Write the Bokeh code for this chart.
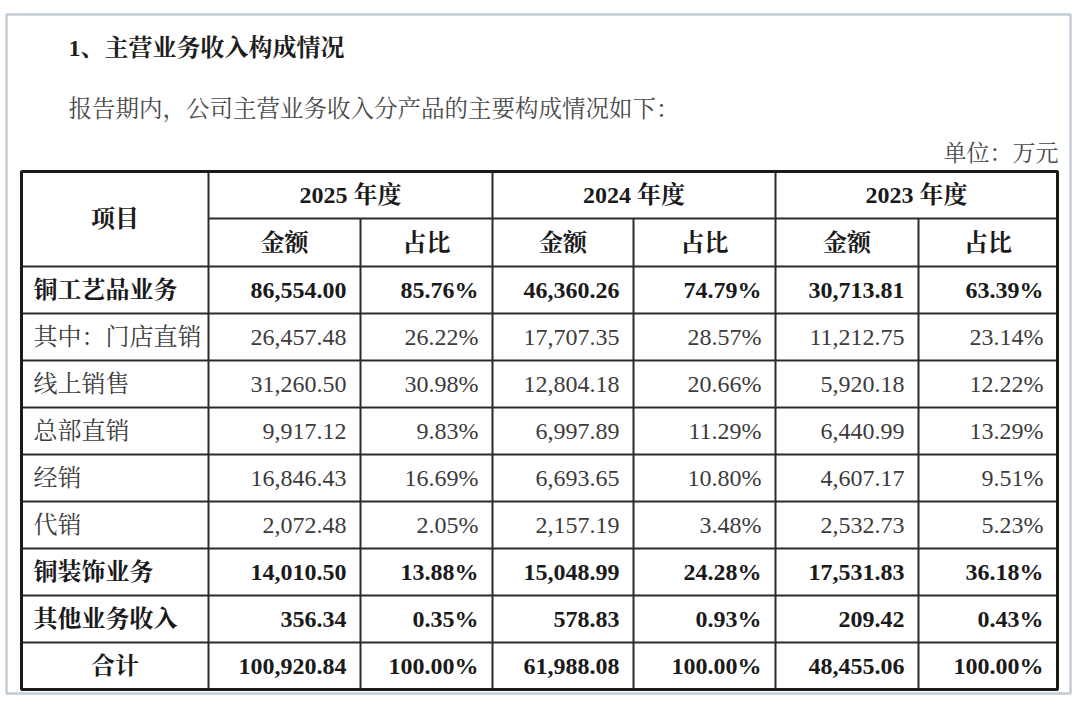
from bokeh.plotting import figure
from bokeh.models import Range1d
from bokeh.core.properties import value
from bokeh.embed import file_html
from bokeh.resources import INLINE

# ---------------- data ----------------
title_text = "1、主营业务收入构成情况"
intro_text = "报告期内，公司主营业务收入分产品的主要构成情况如下："
unit_text = "单位：万元"
header_item = "项目"
years = ["2025 年度", "2024 年度", "2023 年度"]
sub_headers = ["金额", "占比"]
categories = ["铜工艺品业务", "其中：门店直销", "线上销售", "总部直销", "经销", "代销",
              "铜装饰业务", "其他业务收入", "合计"]
bold_rows = [True, False, False, False, False, False, True, True, True]
amount_2025 = [86554.00, 26457.48, 31260.50, 9917.12, 16846.43, 2072.48, 14010.50, 356.34, 100920.84]
share_2025 = [85.76, 26.22, 30.98, 9.83, 16.69, 2.05, 13.88, 0.35, 100.00]
amount_2024 = [46360.26, 17707.35, 12804.18, 6997.89, 6693.65, 2157.19, 15048.99, 578.83, 61988.08]
share_2024 = [74.79, 28.57, 20.66, 11.29, 10.80, 3.48, 24.28, 0.93, 100.00]
amount_2023 = [30713.81, 11212.75, 5920.18, 6440.99, 4607.17, 2532.73, 17531.83, 209.42, 48455.06]
share_2023 = [63.39, 23.14, 12.22, 13.29, 9.51, 5.23, 36.18, 0.43, 100.00]

amounts = [amount_2025, amount_2024, amount_2023]
shares = [share_2025, share_2024, share_2023]

# ---------------- layout ----------------
FONT = value("'Liberation Serif', 'Noto Serif CJK SC', 'Noto Sans CJK SC', serif")
col_x = [21, 208, 360, 492, 633, 775, 918, 1057]
top_y = 171
head1_y = 218
head2_y = 266
row_h = 47
n_rows = len(categories)
row_y = [head2_y + i * row_h for i in range(n_rows + 1)]
bottom_y = row_y[-1]

W, H = 1072, 703
p = figure(width=W, height=H, x_range=Range1d(0, W), y_range=Range1d(H, 0),
           output_backend="svg", toolbar_location=None, min_border=0)
p.axis.visible = False
p.grid.visible = False
p.outline_line_color = None
p.background_fill_color = "white"
p.border_fill_color = "white"

# outer light frame
p.quad(left=[6], right=[1070], top=[14], bottom=[693], fill_color=None,
       line_color="#c3cbd5", line_width=2.5)

# texts above table
p.text(x=[68], y=[47], text=[title_text], text_font=FONT, text_font_size="24px",
       text_font_style="bold", text_color="#1e1e1e", text_baseline="middle", text_align="left")
p.text(x=[68], y=[108], text=[intro_text], text_font=FONT, text_font_size="23.5px",
       text_color="#4a4a4a", text_baseline="middle", text_align="left")
p.text(x=[1058], y=[153], text=[unit_text], text_font=FONT, text_font_size="23px",
       text_color="#4a4a4a", text_baseline="middle", text_align="right")

# table lines
hx0, hx1, hy0, hy1 = [], [], [], []
hx0.append(col_x[1]); hx1.append(col_x[-1]); hy0.append(head1_y); hy1.append(head1_y)
for yy in row_y[:-1]:
    hx0.append(col_x[0]); hx1.append(col_x[-1]); hy0.append(yy); hy1.append(yy)
p.segment(x0=hx0, y0=hy0, x1=hx1, y1=hy1, line_color="#2a2a2a", line_width=2)
vx, vy0 = [], []
for i, cx in enumerate(col_x[1:-1], start=1):
    vx.append(cx)
    vy0.append(top_y if i in (1, 3, 5) else head1_y)
p.segment(x0=vx, y0=vy0, x1=vx, y1=[bottom_y] * len(vx), line_color="#2a2a2a", line_width=2)
p.quad(left=[col_x[0]], right=[col_x[-1]], top=[top_y], bottom=[bottom_y],
       fill_color=None, line_color="#1a1a1a", line_width=3)

# header texts
hdr_x, hdr_y, hdr_t = [], [], []
hdr_x.append((col_x[0] + col_x[1]) / 2); hdr_y.append((top_y + head2_y) / 2); hdr_t.append(header_item)
for k, yr in enumerate(years):
    a, b, c = col_x[1 + 2 * k], col_x[2 + 2 * k], col_x[3 + 2 * k]
    hdr_x.append((a + c) / 2); hdr_y.append((top_y + head1_y) / 2); hdr_t.append(yr)
    hdr_x.append((a + b) / 2); hdr_y.append((head1_y + head2_y) / 2); hdr_t.append(sub_headers[0])
    hdr_x.append((b + c) / 2); hdr_y.append((head1_y + head2_y) / 2); hdr_t.append(sub_headers[1])
p.text(x=hdr_x, y=hdr_y, text=hdr_t, text_font=FONT, text_font_size="24px",
       text_font_style="bold", text_color="#1a1a1a", text_align="center", text_baseline="middle")

# body texts
for bold in (True, False):
    lx, ly, lt, la = [], [], [], []
    nx, ny, nt = [], [], []
    for i, cat in enumerate(categories):
        if bold_rows[i] != bold:
            continue
        cy = (row_y[i] + row_y[i + 1]) / 2
        if cat == "合计":
            lx.append((col_x[0] + col_x[1]) / 2); la.append("center")
        else:
            lx.append(col_x[0] + 12); la.append("left")
        ly.append(cy); lt.append(cat)
        for k in range(3):
            nx.append(col_x[2 + 2 * k] - 14); ny.append(cy); nt.append(f"{amounts[k][i]:,.2f}")
            nx.append(col_x[3 + 2 * k] - 14); ny.append(cy); nt.append(f"{shares[k][i]:.2f}%")
    style = "bold" if bold else "normal"
    color = "#1a1a1a" if bold else "#3c3c3c"
    p.text(x=lx, y=ly, text=lt, text_align=la, text_font=FONT, text_font_size="24px",
           text_font_style=style, text_color=color, text_baseline="middle")
    p.text(x=nx, y=ny, text=nt, text_align="right", text_font=FONT, text_font_size="24px",
           text_font_style=style, text_color=color, text_baseline="middle")

open("out.html", "w").write(file_html(p, INLINE))
